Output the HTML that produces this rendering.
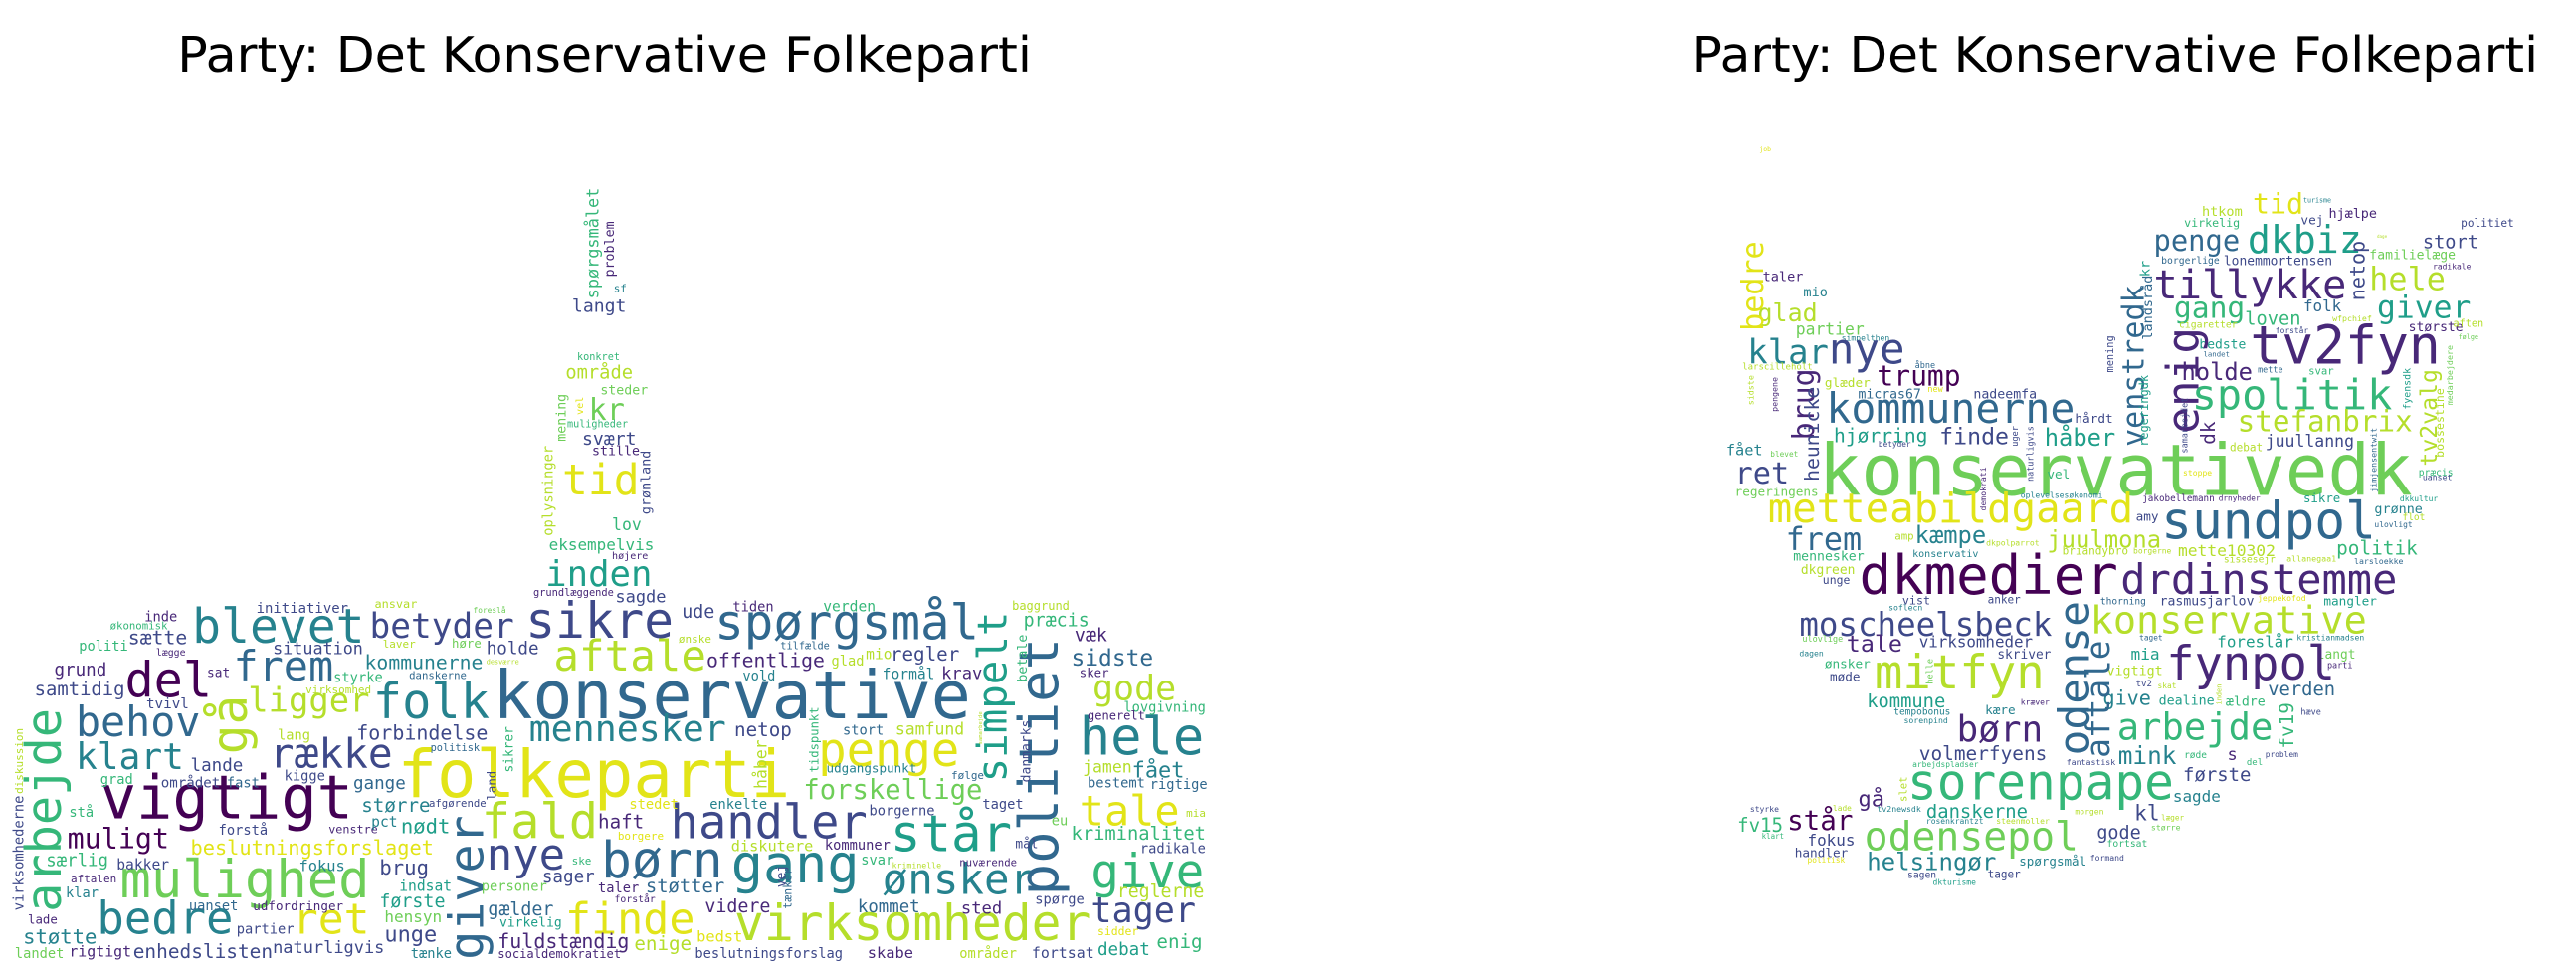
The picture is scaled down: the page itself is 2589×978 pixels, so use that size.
<!DOCTYPE html>
<html><head><meta charset="utf-8"><style>
html,body{margin:0;padding:0;background:#fff;width:2589px;height:978px;overflow:hidden}
svg{display:block}
</style></head><body>
<svg id="fig" xmlns="http://www.w3.org/2000/svg" width="2589" height="978" viewBox="0 0 1568 592" preserveAspectRatio="none">
<rect width="1568" height="592" fill="#fff"/>
<text x="108" y="43.5" font-family="DejaVu Sans, Liberation Sans, sans-serif" font-size="29.6" textLength="520" lengthAdjust="spacingAndGlyphs" fill="#000">Party: Det Konservative Folkeparti</text>
<text x="1030" y="43.5" font-family="DejaVu Sans, Liberation Sans, sans-serif" font-size="29.6" textLength="515" lengthAdjust="spacingAndGlyphs" fill="#000">Party: Det Konservative Folkeparti</text>
<g id="left"></g>
<g id="right"></g>
</svg>
<script>
const palette = ['#440154','#482878','#3e4989','#31688e','#26828e','#1f9e89','#35b779','#6ece58','#b5de2b','#e2e418'];
// left cloud: [word, x, baseline y (or center x / bottom y if vertical), width/length, colour index, vertical]
const leftWords = [
["konservative",300,437,291,3,0],["folkeparti",242,485,239,9,0],["vigtigt",61,498,154,0,0],
["mulighed",73,546,152,7,0],["virksomheder",447,572,217,8,0],["bedre",59,568,83,4,0],
["finde",344,568,79,9,0],["ret",178,568,47,9,0],["børn",366,534,74,3,0],["gang",445,537,78,4,0],
["nye",296,529,48,2,0],["fald",293,510,71,8,0],["handler",408,510,120,2,0],["står",542,518,74,5,0],
["ønsker",537,544,93,4,0],["give",664,540,69,6,0],["tager",664,561,64,2,0],["tale",657,502,61,9,0],
["hele",657,459,76,4,0],["gode",665,426,51,8,0],["penge",498,466,86,9,0],["forskellige",489,486,109,7,0],
["mennesker",322,451,120,4,0],["aftale",337,408,93,8,0],["folk",227,437,71,4,0],["ligger",151,433,74,8,0],
["behov",46,448,76,3,0],["klart",46,468,66,4,0],["række",164,467,75,2,0],["del",76,424,53,0,0],
["frem",142,414,61,3,0],["blevet",117,391,105,4,0],["betyder",225,388,88,2,0],["sikre",320,388,90,2,0],
["spørgsmål",435,389,161,3,0],["muligt",41,516,62,0,0],["beslutningsforslaget",116,520,148,9,0],
["enhedslisten",81,583,85,2,0],["fuldstændig",303,577,80,1,0],
["politiet",635,545,157,3,1],["arbejde",29,555,124,6,1],["simpelt",606,476,104,5,1],["giver",286,584,88,3,1],["gå",142,459,36,8,1],
["initiativer",156,373,56,2,0],["ansvar",228,370,26,8,0],["inde",88,378,20,1,0],["økonomisk",67,383,35,6,0],
["sætte",78,392,36,2,0],["politi",48,396,30,6,0],["lægge",95,399,18,1,0],["grund",33,411,32,1,0],
["situation",166,398,55,2,0],["holde",296,398,32,2,0],["laver",233,394,20,8,0],["høre",275,394,18,7,0],
["foreslå",288,373,20,7,0],["kommunerne",222,407,72,4,0],["desværre",296,404,20,8,0],["samtidig",21,423,55,2,0],
["sat",126,412,14,1,0],["styrke",203,415,30,6,0],["danskerne",249,413,35,3,0],["virksomhed",186,422,40,8,0],
["tvivl",89,431,26,2,0],["ude",415,376,20,2,0],["tiden",446,372,25,1,0],["verden",501,372,32,6,0],
["baggrund",616,371,35,8,0],["præcis",623,381,40,6,0],["væk",654,390,20,1,0],["offentlige",430,406,72,1,0],
["vold",452,414,20,4,0],["glad",506,405,20,8,0],["mio",527,401,16,8,0],["regler",542,402,42,2,0],
["ønske",413,391,20,8,0],["tilfælde",475,395,30,3,0],["formål",537,413,32,4,0],["krav",573,413,25,1,0],
["sidste",652,405,50,3,0],["sker",657,412,18,1,0],["lovgivning",684,433,50,6,0],["generelt",662,438,35,1,0],
["netop",447,448,35,2,0],["stort",513,447,25,3,0],["samfund",545,447,42,8,0],["udgangspunkt",503,470,55,4,0],
["følge",579,474,20,3,0],["jamen",659,470,30,8,0],["fået",689,473,32,4,0],["bestemt",662,479,35,3,0],
["rigtige",700,480,35,3,0],["politisk",262,457,30,3,0],["lang",169,450,20,8,0],["forbindelse",217,450,80,2,0],
["lande",116,469,32,2,0],["grad",61,477,20,6,0],["området",98,479,36,2,0],["fast",138,479,20,3,0],
["kigge",173,475,25,2,0],["gange",215,480,32,3,0],["stå",42,497,15,6,0],["større",220,494,42,4,0],
["afgørende",261,491,35,2,0],["stedet",383,492,30,9,0],["enkelte",432,492,35,4,0],["forstå",133,508,30,2,0],
["venstre",200,507,30,1,0],["pct",226,503,16,4,0],["nødt",244,507,30,5,0],["haft",364,504,28,1,0],
["borgere",376,511,28,9,0],["borgerne",529,496,40,2,0],["taget",598,492,25,2,0],["mia",722,497,12,8,0],
["eu",640,502,10,7,0],["kriminalitet",652,511,82,6,0],["mål",618,516,14,2,0],["radikale",694,519,40,2,0],
["diskutere",445,518,50,8,0],["kommuner",502,517,40,1,0],["særlig",28,527,38,6,0],["bakker",71,529,32,2,0],
["fokus",182,530,28,4,0],["brug",231,532,30,2,0],["ske",348,526,12,6,0],["svar",524,526,20,6,0],
["kriminelle",543,528,30,8,0],["nuværende",584,527,35,1,0],["aftalen",43,537,28,1,0],["klar",40,546,20,4,0],
["indsat",243,542,32,5,0],["personer",293,542,40,7,0],["sager",330,537,32,2,0],["taler",364,543,25,1,0],
["støtter",393,543,48,3,0],["forstår",374,549,25,1,0],["videre",429,555,40,1,0],["kommet",522,555,38,3,0],
["spørge",630,550,30,2,0],["reglerne",680,546,53,8,0],["uanset",115,554,30,3,0],["udfordringer",154,554,55,1,0],
["første",231,552,40,5,0],["gælder",297,557,40,3,0],["lade",17,562,18,1,0],["hensyn",234,561,35,7,0],
["virkelig",304,564,38,5,0],["sted",585,556,25,1,0],["støtte",14,574,45,4,0],["partier",144,568,35,2,0],
["unge",234,573,32,2,0],["bedst",424,573,28,9,0],["enige",386,578,35,8,0],["sidder",668,569,25,9,0],
["enig",704,577,28,6,0],["debat",668,581,32,5,0],["landet",9,583,30,7,0],["rigtigt",42,582,38,1,0],
["naturligvis",166,580,68,2,0],["tænke",250,583,25,4,0],["socialdemokratiet",303,583,75,1,0],
["beslutningsforslag",423,583,90,2,0],["skabe",528,583,28,1,0],["områder",584,583,35,8,0],["fortsat",628,583,38,2,0],
["tænker",480,553,25,3,1],["virksomhederne",12,554,70,2,1],["diskussion",12,483,40,8,1],["betale",623,415,29,6,1],
["danmarks",625,476,38,2,1],["tidspunkt",496,470,40,6,1],["håber",464,480,30,8,1],["sikrer",310,470,28,6,1],["samarbejde",597,453,20,8,1],
["land",300,487,18,2,1],["vej",476,540,14,2,1],
["spørgsmålet",361.4,181.8,67.6,6,1],["problem",371.5,168.6,34,1,1],["sf",373.5,177.7,8,4,0],["langt",348.2,189.8,33,2,0],
["konkret",351.3,219,26,6,0],["område",344.2,230.2,41,8,0],["steder",365.4,239.9,29,7,0],["kr",358.3,255.4,22,7,0],
["mening",342.2,268.6,29,7,1],["vel",353.3,252.4,11,9,1],["muligheder",345.2,259.9,37,6,0],["svært",354.3,270.6,33,2,0],
["stille",360.4,277,29,1,0],["tid",342.2,300.9,47,9,0],["grønland",393.7,313,39,2,1],["oplysninger",334.1,326.1,55,8,1],
["lov",372.5,322.7,18,6,0],["eksempelvis",334.1,334.8,64,6,0],["højere",372.5,340.2,22,1,0],["inden",332,356.4,65,5,0],
["grundlæggende",324.6,362.5,49,1,0],["sagde",374.5,366.5,31,2,0]
];
// right cloud in reference-crop units: horizontal [word, x0, baseline, x1, colour, 0]; vertical [word, centre x, bottom, top, colour, 1]
const rightWords = [
["htkom",1005,35,1085,8,0],["tid",1105,30,1205,9,0],["hjælpe",1255,40,1350,1,0],["vej",1200,55,1245,2,0],
["virkelig",970,60,1080,6,0],["politiet",1515,60,1620,2,0],["penge",910,115,1080,3,0],["dkbiz",1095,120,1320,5,0],
["stort",1440,110,1550,2,0],["familielæge",1335,135,1505,7,0],["dage",1350,85,1370,8,0],["lonemmortensen",1048,148,1262,2,0],
["borgerlige",925,145,1040,3,0],["radikale",1460,158,1535,1,0],["tillykke",910,225,1290,1,0],["hele",1335,205,1485,8,0],
["gang",950,270,1090,6,0],["folk",1205,255,1280,3,0],["giver",1350,270,1535,5,0],["loven",1090,285,1200,6,0],
["cigaretter",960,292,1075,8,0],["wfpchief",1262,278,1340,8,0],["forstår",1150,305,1215,2,0],["største",1412,300,1520,1,0],
["tv2fyn",1100,375,1475,1,0],["bedste",1000,340,1092,5,0],["landet",1008,358,1060,3,0],["holde",965,412,1105,1,0],
["mette",1115,395,1165,3,0],["svar",1215,400,1265,6,0],["spolitik",985,480,1380,6,0],["stefanbrix",1075,530,1420,8,0],
["juullanng",1130,565,1305,2,0],["debat",1060,575,1125,8,0],["taler",140,185,220,1,0],["mio",220,220,268,4,0],
["glad",130,278,248,8,0],["partier",205,308,340,7,0],["simpelthen",295,322,390,4,0],["klar",110,375,270,4,0],
["nye",270,375,420,2,0],["larscilleholt",100,388,238,8,0],["åbne",440,385,480,3,0],["trump",365,425,530,0,0],
["glæder",262,428,352,8,0],["micras67",328,455,452,3,0],["new",465,440,495,9,0],["nadeemfa",555,455,680,2,0],
["kommunerne",265,510,755,3,0],["hårdt",755,510,830,2,0],["hjørring",280,555,465,5,0],["finde",488,560,625,2,0],
["håber",695,563,835,5,0],["betyder",368,565,432,2,0],["fået",68,585,140,4,0],["blevet",155,588,210,7,0],
["ret",85,650,192,2,0],["konservativedk",250,675,1420,7,0],["vel",700,638,745,6,0],["stoppe",968,632,1025,9,0],
["præcis",1432,632,1500,6,0],["uanset",1440,642,1498,2,0],["regeringens",85,678,250,7,0],["oplevelsesøkonomi",648,682,810,4,0],
["jakobellemann",888,690,1030,1,0],["drnyheder",1038,688,1120,1,0],["sikre",1205,692,1278,5,0],["dkkultur",1395,690,1470,5,0],
["metteabildgaard",150,735,870,9,0],["amy",875,732,920,2,0],["sundpol",925,770,1348,3,0],["grønne",1345,715,1440,4,0],
["flot",1400,730,1445,8,0],["ulovligt",1345,745,1420,3,0],["frem",185,795,335,3,0],["kæmpe",440,780,580,4,0],
["amp",400,772,438,8,0],["juulmona",700,790,925,8,0],["dkpolparrot",580,785,685,8,0],["briandybro",730,805,860,8,0],
["borgerne",870,803,945,8,0],["mette10302",958,808,1150,8,0],["politik",1270,805,1430,6,0],["mennesker",200,818,340,6,0],
["konservativ",435,810,565,4,0],["sissesejr",1048,822,1150,8,0],["allanegaa1",1172,820,1270,8,0],["larsloekke",1305,825,1402,3,0],
["dkgreen",215,847,322,8,0],["unge",258,868,312,2,0],["dkmedier",330,890,840,0,0],["drdinstemme",845,890,1390,1,0],
["vist",415,912,470,2,0],["anker",583,910,648,2,0],["thorning",805,912,895,3,0],["rasmusjarlov",922,915,1108,2,0],
["jeppekofod",1115,905,1210,9,0],["mangler",1245,915,1350,5,0],["soflecn",388,925,455,4,0],["moscheelsbeck",212,980,710,2,0],
["konservative",785,975,1330,8,0],["tale",305,1015,415,1,0],["virksomheder",448,1005,672,2,0],["taget",882,990,928,3,0],
["kristianmadsen",1192,990,1325,4,0],["foreslår",1035,1005,1185,5,0],["ulovlige",218,993,298,7,0],["dagen",212,1025,260,4,0],
["skriver",602,1030,708,2,0],["langt",1232,1030,1308,7,0],["mia",865,1032,922,5,0],["fynpol",935,1075,1268,1,0],
["parti",1252,1050,1302,1,0],["ønsker",262,1050,352,6,0],["mitfyn",360,1095,695,8,0],["møde",272,1078,332,2,0],
["vigtigt",818,1065,928,8,0],["tv2",875,1090,907,2,0],["skat",918,1095,955,8,0],["kommune",345,1135,500,5,0],
["verden",1135,1110,1268,3,0],["give",810,1130,905,4,0],["dealine",920,1130,1030,5,0],["ældre",1052,1132,1130,6,0],
["tempobonus",398,1152,510,4,0],["kære",578,1150,638,4,0],["kræver",648,1130,705,1,0],["hæve",1200,1152,1240,2,0],
["sorenpind",418,1170,505,4,0],["børn",522,1210,692,1,0],["arbejde",838,1205,1145,6,0],["volmerfyens",448,1250,700,2,0],
["mink",840,1258,955,4,0],["s",1055,1250,1075,1,0],["røde",970,1245,1015,6,0],["problem",1130,1243,1195,2,0],
["del",1093,1260,1125,6,0],["arbejdspladser",435,1265,565,6,0],["fantastisk",738,1260,835,2,0],["sorenpape",425,1335,950,6,0],
["første",968,1295,1102,2,0],["gå",328,1350,380,1,0],["sagde",948,1340,1042,4,0],["lade",278,1360,315,8,0],
["styrke",115,1362,172,2,0],["tv2newsdk",365,1362,452,4,0],["morgen",755,1367,812,8,0],["kl",872,1380,922,2,0],
["læger",925,1380,970,8,0],["står",188,1400,318,0,0],["fv15",90,1405,180,6,0],["danskerne",462,1375,662,5,0],
["rosenkrantzt",462,1388,575,4,0],["steenmoller",600,1388,705,8,0],["større",905,1402,963,7,0],["klart",138,1420,182,6,0],
["odensepol",340,1445,762,7,0],["gode",798,1420,885,2,0],["fortsat",818,1437,898,6,0],["fokus",228,1435,322,2,0],
["handler",203,1460,308,2,0],["politisk",228,1472,302,9,0],["helsingør",345,1488,600,4,0],["spørgsmål",645,1478,778,4,0],
["formand",785,1467,852,2,0],["sagen",425,1505,482,2,0],["tager",583,1505,648,2,0],["dkturisme",475,1520,560,5,0],
["aften",1500,290,1560,8,0],["følge",1510,318,1550,7,0],["turisme",1205,5,1260,4,0],
["netop",1315,230,100,2,1],["kr",895,175,140,5,1],["landsråd",900,320,180,3,1],["venstredk",875,565,215,3,1],
["enig",975,535,305,1,1],["regeringdk",893,565,410,5,1],["dk",1020,560,510,1,1],["tv2valg",1455,610,400,8,1],
["fyensdk",1410,480,390,5,1],["bossestine",1475,590,440,8,1],["medarbejdere",1495,470,340,7,1],["samarbejdet",972,580,460,2,1],
["mening",825,395,315,2,1],["jimjensentwit",1345,670,530,3,1],["naturligvis",668,645,525,2,1],["uger",638,565,520,2,1],
["demokrati",575,710,615,1,1],["bedre",125,300,105,9,1],["sidste",118,470,405,8,1],["pengene",165,485,410,1,1],
["brug",225,550,395,1,1],["heunicke",240,645,440,2,1],["odense",760,1240,905,3,1],["aftale",805,1245,990,3,1],
["helle",470,1085,1030,7,1],["inden",1040,1130,1085,8,1],["fv19",1175,1225,1125,6,1],["slet",418,1340,1285,8,1]
];
// axis mapping from crop units to figure units
function rx(v){ return 1029.7 + v*0.309; }
function ry(v){ return v < 675 ? 122 + v*0.265 : 301 + (v-675)*0.281; }
const NS = 'http://www.w3.org/2000/svg';
function place(g, word, x, y, len, c, vert){
  const fs = Math.min(len/(word.length*0.6), 70);
  const t = document.createElementNS(NS,'text');
  t.textContent = word;
  t.setAttribute('font-family','DejaVu Sans Mono, Liberation Mono, monospace');
  t.setAttribute('font-size', fs.toFixed(2));
  t.setAttribute('textLength', len.toFixed(2));
  t.setAttribute('lengthAdjust','spacingAndGlyphs');
  t.setAttribute('fill', palette[c]);
  if (vert){
    const bx = x + fs*0.27;
    t.setAttribute('x', 0); t.setAttribute('y', 0);
    t.setAttribute('transform', 'translate('+bx.toFixed(2)+','+y.toFixed(2)+') rotate(-90)');
  } else {
    t.setAttribute('x', x.toFixed(2)); t.setAttribute('y', y.toFixed(2));
  }
  
  
  g.appendChild(t);
}
const gl = document.getElementById('left');
leftWords.forEach(w => place(gl, w[0], w[1], w[2], w[3], w[4], w[5]));
const gr = document.getElementById('right');
rightWords.forEach(w => {
  if (w[5]) place(gr, w[0], rx(w[1]), ry(w[2]), (w[2]-w[3])*0.281, w[4], 1);
  else place(gr, w[0], rx(w[1]), ry(w[2]), (w[3]-w[1])*0.309, w[4], 0);
});
place(gr, 'job', 1071, 92, 7, 9, 0);
</script>
</body></html>
